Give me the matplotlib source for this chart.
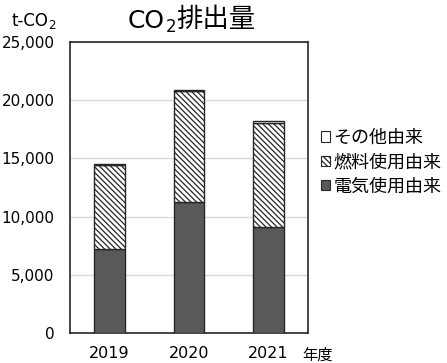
import numpy as np
import matplotlib
matplotlib.use("Agg")
import matplotlib.pyplot as plt
from matplotlib.patches import Patch

plt.rcParams['font.family'] = ['DejaVu Sans', 'Noto Sans CJK JP']
plt.rcParams['hatch.color'] = '#9a9a9a'
plt.rcParams['hatch.linewidth'] = 0.9

# ─── データ ───────────────────────────────────────────────────────────────
years = ["2019", "2020", "2021"]
electric = [7200, 11250, 9150]   # 電気使用由来
fuel = [7200, 9500, 8900]        # 燃料使用由来
other = [100, 150, 150]          # その他由来
yticks = [0, 5000, 10000, 15000, 20000, 25000]

fig = plt.figure(figsize=(4.47, 3.63), dpi=100)
ax = fig.add_axes([0.1566, 0.0826, 0.5324, 0.8017])

x = np.arange(len(years))
w = 0.39
edge = "#262626"
hatch = "\\" * 6
ax.bar(x, electric, w, color="#595959", edgecolor=edge, linewidth=1.0, zorder=3)
ax.bar(x, fuel, w, bottom=electric, color="white", edgecolor=edge, hatch=hatch,
       linewidth=1.0, zorder=3)
bottom2 = np.array(electric) + np.array(fuel)
ax.bar(x, other, w, bottom=bottom2, color="white", edgecolor=edge, linewidth=1.0, zorder=3)

ax.set_xlim(-0.5, 2.5)
ax.set_ylim(0, 25000)
ax.set_yticks(yticks)
ax.set_yticklabels([f"{v:,}" for v in yticks], fontsize=11)
ax.set_xticks(x)
ax.set_xticklabels(years, fontsize=11.5)
ax.tick_params(axis="y", length=0, pad=11)
ax.tick_params(axis="x", length=0, pad=9)
ax.grid(True, axis="y", color="#d9d9d9", linewidth=1.0, zorder=0)
for s in ax.spines.values():
    s.set_color("#262626")
    s.set_linewidth(1.2)


def sub_text(x0, y0, main, tail, size, sub_size, sub_drop):
    """CO + 下付き2 + 続き を並べて描く"""
    t1 = fig.text(x0, y0, main, fontsize=size, ha="left", va="baseline")
    t2 = ax.annotate("2", xy=(1, 0), xycoords=t1, xytext=(0.2, -sub_drop),
                     textcoords="offset points", fontsize=sub_size,
                     ha="left", va="bottom", annotation_clip=False)
    if tail:
        ax.annotate(tail, xy=(1, 0), xycoords=t2, xytext=(0.2, sub_drop),
                    textcoords="offset points", fontsize=size + 1,
                    ha="left", va="bottom", annotation_clip=False)


sub_text(128 / 447, 1 - 28 / 363, "CO", "排出量", 18, 12, 2.5)
sub_text(11 / 447, 1 - 26 / 363, "t-CO", "", 12, 8.5, 1.5)
fig.text(302 / 447, 0.022, "年度", fontsize=11, ha="left", va="center")

handles = [
    Patch(facecolor="white", edgecolor=edge, linewidth=0.8, label="その他由来"),
    Patch(facecolor="white", edgecolor=edge, hatch=hatch, linewidth=0.8, label="燃料使用由来"),
    Patch(facecolor="#595959", edgecolor=edge, linewidth=0.8, label="電気使用由来"),
]
fig.legend(handles=handles, loc="upper left", bbox_to_anchor=(0.703, 0.665),
           frameon=False, fontsize=13, handlelength=0.5, handleheight=0.5,
           handletextpad=0.15, labelspacing=0.35, borderaxespad=0)

plt.savefig("out.png", dpi=100)
